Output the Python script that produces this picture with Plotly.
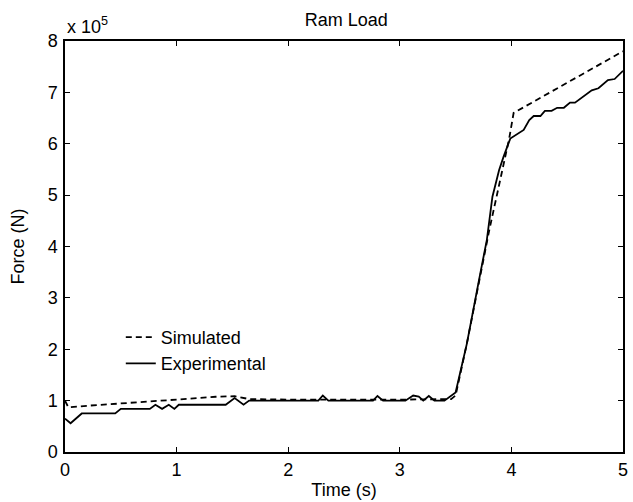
import plotly.graph_objects as go

# Simulated ram load (x 1e5 N)
sim_time = [0.0, 0.03, 0.2, 0.5, 0.7, 1.0, 1.35, 1.52, 1.65, 2.0, 3.0, 3.46,
            3.5, 3.6, 3.7, 3.8, 3.9, 3.98, 4.02, 5.0]
sim_force = [1.0, 0.87, 0.9, 0.95, 0.97, 1.02, 1.075, 1.087, 1.03, 1.02, 1.02, 1.03,
             1.1, 2.1, 3.2, 4.3, 5.3, 6.1, 6.6, 7.8]

# Experimental ram load (x 1e5 N)
exp_time = [0.0, 0.05, 0.15, 0.45, 0.50, 0.76, 0.81, 0.87, 0.93, 0.98, 1.02, 1.44,
            1.52, 1.60, 1.65, 2.27, 2.31, 2.36, 2.76, 2.80, 2.85, 3.05, 3.12, 3.17,
            3.21, 3.26, 3.31, 3.40, 3.50, 3.60, 3.71, 3.78, 3.83, 3.89, 3.93, 3.99,
            4.11, 4.16, 4.20, 4.26, 4.30, 4.36, 4.41, 4.47, 4.525, 4.57, 4.72, 4.78,
            4.865, 4.925, 5.0]
exp_force = [0.65, 0.56, 0.75, 0.75, 0.84, 0.84, 0.92, 0.84, 0.92, 0.84, 0.92, 0.92,
             1.05, 0.92, 1.0, 1.0, 1.1, 1.0, 1.0, 1.09, 1.0, 1.0, 1.1, 1.08,
             1.0, 1.09, 1.0, 1.0, 1.16, 2.1, 3.35, 4.13, 4.97, 5.49, 5.75, 6.10,
             6.27, 6.46, 6.54, 6.54, 6.64, 6.64, 6.70, 6.70, 6.80, 6.80, 7.04, 7.08,
             7.24, 7.26, 7.42]

x_ticks = [0, 1, 2, 3, 4, 5]
y_ticks = [0, 1, 2, 3, 4, 5, 6, 7, 8]

FONT = "Liberation Sans, Arial, sans-serif"
FS = 18

fig = go.Figure()
fig.add_trace(go.Scatter(x=sim_time, y=sim_force, mode="lines", name="Simulated",
                         line=dict(color="black", width=1.8, dash="6px,4px")))
fig.add_trace(go.Scatter(x=exp_time, y=exp_force, mode="lines", name="Experimental",
                         line=dict(color="black", width=1.8)))

axis_common = dict(showline=True, linecolor="black", linewidth=1.5, mirror="ticks",
                   ticks="inside", ticklen=5, tickcolor="black", tickwidth=1,
                   showgrid=False, zeroline=False, ticklabeloverflow="allow",
                   tickfont=dict(family=FONT, size=FS, color="black"))

fig.update_xaxes(range=[0, 5], tickvals=x_ticks, ticklabelstandoff=1,
                 title=dict(text="Time (s)", font=dict(family=FONT, size=FS, color="black"), standoff=4),
                 **axis_common)
fig.update_yaxes(range=[0, 8], tickvals=y_ticks, ticklabelstandoff=2,
                 title=dict(text="Force (N)", font=dict(family=FONT, size=FS, color="black"), standoff=18),
                 **axis_common)

fig.update_layout(
    width=633, height=502,
    margin=dict(l=65, r=5, t=41, b=49),
    plot_bgcolor="white", paper_bgcolor="white",
    title=dict(text="Ram Load", x=0.547, xanchor="center", y=0.96, yanchor="middle",
               font=dict(family=FONT, size=FS, color="black")),
    font=dict(family=FONT, size=FS, color="black"),
    legend=dict(x=0.100, y=0.324, xanchor="left", yanchor="top",
                bgcolor="rgba(0,0,0,0)", borderwidth=0,
                font=dict(family=FONT, size=FS, color="black"),
                tracegroupgap=0),
    showlegend=True,
    annotations=[dict(text="x 10<sup>5</sup>", xref="paper", yref="paper",
                      x=0.0, y=1.038, xanchor="left", yanchor="middle",
                      showarrow=False, font=dict(family=FONT, size=FS, color="black"))],
)

fig.write_html("out.html", config={"displayModeBar": False},
               post_script="document.body.style.margin='0px';")
